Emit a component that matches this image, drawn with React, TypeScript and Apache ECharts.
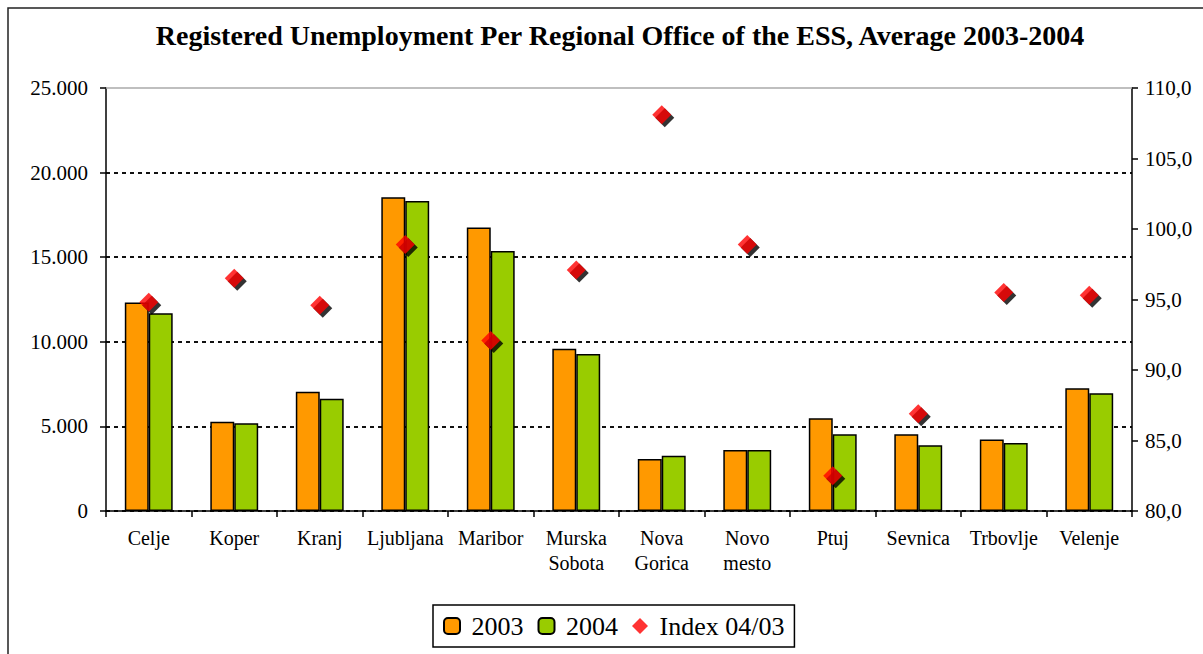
import React, { useEffect, useRef } from "react";
import * as echarts from "echarts";

const categories = ["Celje", "Koper", "Kranj", "Ljubljana", "Maribor", "Murska\nSobota", "Nova\nGorica", "Novo\nmesto", "Ptuj", "Sevnica", "Trbovlje", "Velenje"];
const values2003 = [12330, 5280, 7050, 18540, 16750, 9590, 3070, 3610, 5480, 4530, 4220, 7250];
const values2004 = [11690, 5180, 6640, 18320, 15370, 9280, 3270, 3610, 4530, 3880, 4020, 6960];
const index0403 = [94.8, 96.5, 94.6, 98.9, 92.1, 97.1, 108.1, 98.9, 82.5, 86.9, 95.5, 95.3];
const seriesNames = ["2003", "2004", "Index 04/03"];
const titleText = "Registered Unemployment Per Regional Office of the ESS, Average 2003-2004";

const SERIF = "Liberation Serif";

export default function App() {
  const ref = useRef<HTMLDivElement>(null);
  useEffect(() => {
    if (!ref.current) return;
    const chart = echarts.init(ref.current, null, { renderer: "svg" });
    chart.setOption({
      animation: false,
      backgroundColor: "#ffffff",
      textStyle: { fontFamily: SERIF, color: "#000" },
      graphic: [
        {
          type: "rect",
          shape: { x: 8, y: 8, width: 1400, height: 800 },
          style: { fill: "none", stroke: "#222", lineWidth: 1.5 },
          silent: true,
        },
      ],
      title: {
        text: titleText,
        left: 615,
        textAlign: "center",
        top: 16,
        textStyle: { fontFamily: SERIF, fontWeight: "bold", fontSize: 28, color: "#000" },
      },
      legend: {
        data: seriesNames,
        left: 433,
        top: 605,
        padding: [8, 10, 8, 10],
        itemGap: 14,
        itemWidth: 16,
        itemHeight: 16,
        borderColor: "#000",
        borderWidth: 1.5,
        formatter: (name: string) => " " + name,
        textStyle: { fontFamily: SERIF, fontSize: 26, color: "#000" },
      },
      grid: { left: 106, right: 71, top: 88, bottom: 143, containLabel: false },
      xAxis: [
        {
          type: "category",
          data: categories,
          axisLine: { lineStyle: { color: "#000", width: 1.5 } },
          axisTick: { show: true, length: 6, lineStyle: { color: "#000", width: 1.5 } },
          axisLabel: { fontFamily: SERIF, fontSize: 20, color: "#000", margin: 14, lineHeight: 25, interval: 0 },
        },
        {
          type: "category",
          data: categories,
          position: "top",
          axisLine: { lineStyle: { color: "#aaa", width: 1.5 } },
          axisTick: { show: false },
          axisLabel: { show: false },
        },
      ],
      yAxis: [
        {
          type: "value",
          min: 0,
          max: 25000,
          interval: 5000,
          axisLine: { show: true, lineStyle: { color: "#000", width: 1.5 } },
          axisTick: { show: true, length: 6, lineStyle: { color: "#000", width: 1.5 } },
          axisLabel: {
            fontFamily: SERIF,
            fontSize: 21,
            color: "#000",
            margin: 18,
            formatter: (v: number) => (v === 0 ? "0" : v.toLocaleString("de-DE")),
          },
          splitLine: { show: true, showMaxLine: false, lineStyle: { color: "#111", width: 1.8, type: [4, 4] } },
        },
        {
          type: "value",
          min: 80,
          max: 110,
          interval: 5,
          position: "right",
          axisLine: { show: true, lineStyle: { color: "#000", width: 1.5 } },
          axisTick: { show: true, length: 6, lineStyle: { color: "#000", width: 1.5 } },
          axisLabel: {
            fontFamily: SERIF,
            fontSize: 21,
            color: "#000",
            margin: 13,
            formatter: (v: number) => v.toFixed(1).replace(".", ","),
          },
          splitLine: { show: false },
        },
      ],
      series: [
        {
          name: seriesNames[0],
          type: "bar",
          data: values2003,
          barGap: "0%",
          barCategoryGap: "44%",
          itemStyle: { color: "#FF9900", borderColor: "#000", borderWidth: 1.5 },
        },
        {
          name: seriesNames[1],
          type: "bar",
          data: values2004,
          itemStyle: { color: "#99CC00", borderColor: "#000", borderWidth: 1.5 },
        },
        {
          name: "shadow",
          type: "scatter",
          yAxisIndex: 1,
          data: index0403,
          symbol: "diamond",
          symbolSize: 19,
          symbolOffset: [3, 3],
          itemStyle: { color: "#000" },
          z: 3,
        },
        {
          name: seriesNames[2],
          type: "scatter",
          yAxisIndex: 1,
          data: index0403,
          symbol: "diamond",
          symbolSize: 19,
          itemStyle: { color: "#FF0000" },
          z: 4,
        },
      ],
    });
    return () => chart.dispose();
  }, []);
  return <div ref={ref} style={{ position: "fixed", left: 0, top: 0, width: 1203, height: 654 }} />;
}
